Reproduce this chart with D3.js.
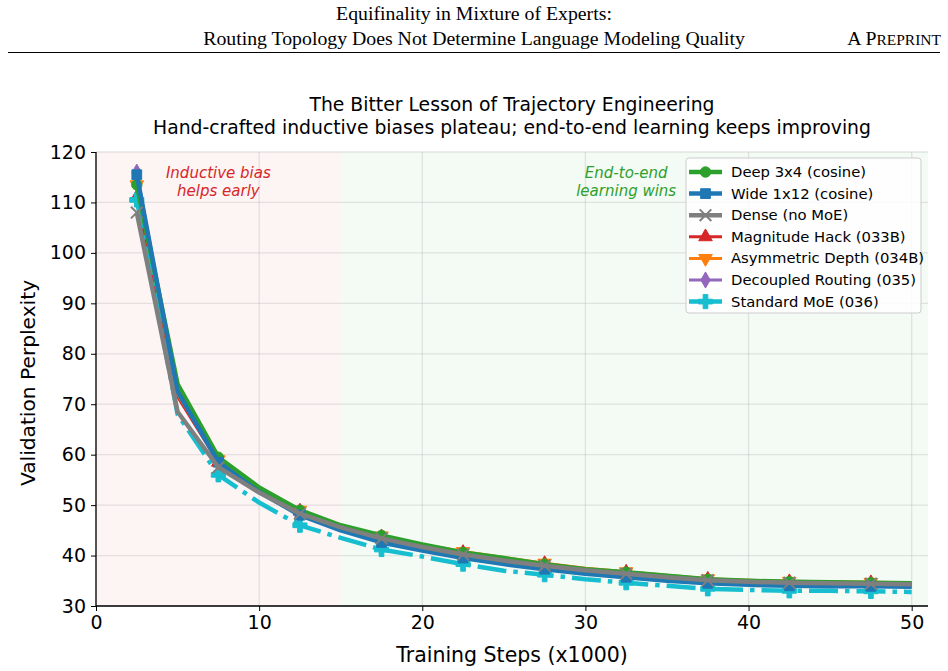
<!DOCTYPE html>
<html>
<head>
<meta charset="utf-8">
<script src="https://cdn.jsdelivr.net/npm/d3@7"></script>
<style>
  body { margin: 0; background: #fff; }
  svg { display: block; }
  .tick text { font-family: "DejaVu Sans", sans-serif; }
</style>
</head>
<body>
<div id="chart"></div>
<script>
// training steps (x1000)
const steps = [2.5, 5, 7.5, 10, 12.5, 15, 17.5, 20, 22.5, 25, 27.5, 30, 32.5, 35, 37.5, 40, 42.5, 45, 47.5, 50];

const deep3x4 =    [113.5, 74, 59.5, 53.5, 49, 46, 44, 42.2, 40.6, 39.5, 38.3, 37.3, 36.7, 36, 35.3, 35, 34.8, 34.7, 34.6, 34.5];
const wide1x12 =   [115.5, 72.5, 58.5, 52.6, 48, 45, 42.6, 41, 39.5, 38.3, 37.3, 36.4, 35.7, 35, 34.5, 34.2, 34, 33.9, 33.9, 33.8];
const dense =      [108, 68.5, 57.5, 52.5, 48.3, 45.6, 43.4, 41.7, 40.2, 39, 38, 37.1, 36.4, 35.7, 35.1, 34.8, 34.6, 34.5, 34.4, 34.3];
const magHack =    [111, 71.5, 58.5, 53, 48.8, 45.8, 43.7, 42, 40.6, 39.5, 38.4, 37.4, 36.7, 36, 35.3, 35, 34.8, 34.7, 34.6, 34.5];
const asymDepth =  [113.5, 72, 59, 53.3, 49, 46, 43.9, 42.2, 40.8, 39.6, 38.5, 37.5, 36.8, 36.1, 35.4, 35.1, 34.9, 34.8, 34.7, 34.6];
const decoupled =  [116, 72.5, 58.5, 52.6, 48.2, 45.2, 42.8, 41.2, 39.7, 38.5, 37.4, 36.5, 35.8, 35.1, 34.6, 34.3, 34.1, 34, 34, 33.9];
const standardMoE = [110.5, 68, 56, 50.5, 46, 43.5, 41.2, 39.8, 38.3, 37, 36.2, 35.3, 34.6, 34, 33.4, 33.2, 33, 33, 32.9, 32.8];

const xTicks = [0, 10, 20, 30, 40, 50];
const yTicks = [30, 40, 50, 60, 70, 80, 90, 100, 110, 120];

// legend order
const series = [
  {name: "Deep 3x4 (cosine)", vals: deep3x4, color: "#2ca02c", marker: "circle", lw: 4.5, z: 5},
  {name: "Wide 1x12 (cosine)", vals: wide1x12, color: "#1f77b4", marker: "square", lw: 4.5, z: 6},
  {name: "Dense (no MoE)", vals: dense, color: "#7f7f7f", marker: "x", lw: 4.5, z: 7},
  {name: "Magnitude Hack (033B)", vals: magHack, color: "#d62728", marker: "tri-up", lw: 3, z: 1},
  {name: "Asymmetric Depth (034B)", vals: asymDepth, color: "#ff7f0e", marker: "tri-down", lw: 3, z: 2},
  {name: "Decoupled Routing (035)", vals: decoupled, color: "#9467bd", marker: "diamond", lw: 3, z: 3},
  {name: "Standard MoE (036)", vals: standardMoE, color: "#17becf", marker: "plus", lw: 4.5, z: 4, dash: "29,7,4.5,7"}
];

const W = 948, H = 671;
const m = {left: 96, right: 928, top: 152, bottom: 606};

const svg = d3.select("#chart").append("svg")
  .attr("width", W).attr("height", H);

// page header
const serif = "'Liberation Serif', 'Times New Roman', serif";
svg.append("text").attr("x", 474).attr("y", 20).attr("text-anchor", "middle")
  .style("font-family", serif).style("font-size", "19.8px")
  .text("Equifinality in Mixture of Experts:");
svg.append("text").attr("x", 474).attr("y", 44.5).attr("text-anchor", "middle")
  .style("font-family", serif).style("font-size", "19.8px")
  .text("Routing Topology Does Not Determine Language Modeling Quality");
const pre = svg.append("text").attr("x", 941).attr("y", 44.5).attr("text-anchor", "end")
  .style("font-family", serif).style("font-size", "19.8px");
pre.append("tspan").text("A P");
pre.append("tspan").style("font-size", "15.5px").text("REPRINT");
svg.append("line").attr("x1", 8).attr("x2", 940).attr("y1", 52.5).attr("y2", 52.5)
  .attr("stroke", "#000").attr("stroke-width", 1.2);

const x = d3.scaleLinear().domain([0, 51]).range([m.left, m.right]);
const y = d3.scaleLinear().domain([30, 120]).range([m.bottom, m.top]);

// shaded phases
svg.append("rect").attr("x", x(0)).attr("y", m.top)
  .attr("width", x(15) - x(0)).attr("height", m.bottom - m.top)
  .attr("fill", "#d62728").attr("fill-opacity", 0.05);
svg.append("rect").attr("x", x(15)).attr("y", m.top)
  .attr("width", x(51) - x(15)).attr("height", m.bottom - m.top)
  .attr("fill", "#2ca02c").attr("fill-opacity", 0.05);

// grid
const grid = svg.append("g");
grid.selectAll(".gx").data(xTicks).enter().append("line")
  .attr("x1", d => x(d)).attr("x2", d => x(d)).attr("y1", m.top).attr("y2", m.bottom)
  .attr("stroke", "#b0b0b0").attr("stroke-opacity", 0.3).attr("stroke-width", 1.3);
grid.selectAll(".gy").data(yTicks).enter().append("line")
  .attr("x1", m.left).attr("x2", m.right).attr("y1", d => y(d)).attr("y2", d => y(d))
  .attr("stroke", "#b0b0b0").attr("stroke-opacity", 0.3).attr("stroke-width", 1.3);

// annotations
function note(lines, cx, color) {
  const t = svg.append("text").attr("text-anchor", "middle")
    .style("font-family", "'DejaVu Sans', sans-serif").style("font-size", "15px")
    .style("font-style", "italic").attr("fill", color);
  lines.forEach((s, i) => t.append("tspan").attr("x", cx).attr("y", 178 + i * 17.5).text(s));
}
note(["Inductive bias", "helps early"], x(7.5), "#d62728");
note(["End-to-end", "learning wins"], x(32.5), "#2ca02c");

// markers
const symbols = {
  circle: d3.symbol().type(d3.symbolCircle).size(85),
  square: d3.symbol().type(d3.symbolSquare).size(95),
  x: d3.symbol().type(d3.symbolX).size(90),
  "tri-up": d3.symbol().type(d3.symbolTriangle).size(80),
  "tri-down": d3.symbol().type(d3.symbolTriangle).size(80),
  diamond: d3.symbol().type(d3.symbolDiamond).size(75),
  plus: d3.symbol().type(d3.symbolCross).size(110)
};
function drawMarker(g, s, px, py) {
  const p = g.append("path").attr("d", symbols[s.marker]())
    .attr("transform", `translate(${px},${py})` + (s.marker === "tri-down" ? " rotate(180)" : ""));
  if (s.marker === "x") {
    p.attr("fill", "none").attr("stroke", s.color).attr("stroke-width", 2);
  } else {
    p.attr("fill", s.color).attr("stroke", s.color).attr("stroke-width", 1);
  }
}

const line = d3.line().x(d => x(d[0])).y(d => y(d[1]));
const plot = svg.append("g");
series.slice().sort((a, b) => a.z - b.z).forEach(s => {
  const pts = steps.map((st, i) => [st, s.vals[i]]);
  const g = plot.append("g");
  g.append("path").datum(pts).attr("d", line)
    .attr("fill", "none").attr("stroke", s.color).attr("stroke-width", s.lw)
    .attr("stroke-linejoin", "round")
    .attr("stroke-dasharray", s.dash || null);
  pts.forEach((p, i) => { if (i % 2 === 0) drawMarker(g, s, x(p[0]), y(p[1])); });
});

// axes
const fontAx = "'DejaVu Sans', sans-serif";
const xAxis = svg.append("g").attr("transform", `translate(0,${m.bottom})`)
  .call(d3.axisBottom(x).tickValues(xTicks).tickSize(5).tickPadding(5));
const yAxis = svg.append("g").attr("transform", `translate(${m.left},0)`)
  .call(d3.axisLeft(y).tickValues(yTicks).tickSize(5).tickPadding(5));
[xAxis, yAxis].forEach(a => {
  a.selectAll("text").style("font-size", "19px").attr("fill", "#000");
  a.selectAll("line").attr("stroke", "#000").attr("stroke-width", 1);
  a.select(".domain").attr("stroke", "#000").attr("stroke-width", 1.3)
    .attr("d", a === xAxis ? `M${m.left},0H${m.right}` : `M0,${m.top}V${m.bottom}`);
});

svg.append("text").attr("x", (m.left + m.right) / 2).attr("y", 662).attr("text-anchor", "middle")
  .style("font-family", fontAx).style("font-size", "20.5px").text("Training Steps (x1000)");
svg.append("text").attr("transform", `translate(35,${(m.top + m.bottom) / 2 + 4}) rotate(-90)`)
  .attr("text-anchor", "middle")
  .style("font-family", fontAx).style("font-size", "20.2px").text("Validation Perplexity");

// title
svg.append("text").attr("x", (m.left + m.right) / 2).attr("y", 111).attr("text-anchor", "middle")
  .style("font-family", fontAx).style("font-size", "18.8px")
  .text("The Bitter Lesson of Trajectory Engineering");
svg.append("text").attr("x", (m.left + m.right) / 2).attr("y", 133.5).attr("text-anchor", "middle")
  .style("font-family", fontAx).style("font-size", "18.8px")
  .text("Hand-crafted inductive biases plateau; end-to-end learning keeps improving");

// legend
const lg = svg.append("g").attr("transform", "translate(686,158)");
lg.append("rect").attr("width", 235).attr("height", 155).attr("rx", 3)
  .attr("fill", "#fff").attr("fill-opacity", 0.8).attr("stroke", "#ccc");
series.forEach((s, i) => {
  const ly = 14 + i * 21.6;
  const g = lg.append("g");
  g.append("line").attr("x1", 3).attr("x2", 36).attr("y1", ly).attr("y2", ly)
    .attr("stroke", s.color).attr("stroke-width", s.lw);
  drawMarker(g, s, 19.5, ly);
  g.append("text").attr("x", 45).attr("y", ly + 5)
    .style("font-family", fontAx).style("font-size", "14.8px").text(s.name);
});
</script>
</body>
</html>
